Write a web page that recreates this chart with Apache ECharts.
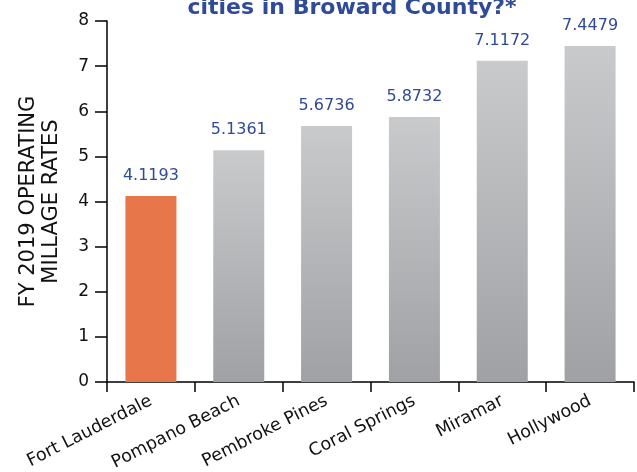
<!DOCTYPE html>
<html>
<head>
<meta charset="utf-8">
<script src="https://cdn.jsdelivr.net/npm/echarts@6/dist/echarts.min.js"></script>
<style>
  html, body { margin: 0; padding: 0; background: #fff; }
  #chart { width: 637px; height: 472px; }
</style>
</head>
<body>
<div id="chart"></div>
<script>
const cities = ["Fort Lauderdale", "Pompano Beach", "Pembroke Pines", "Coral Springs", "Miramar", "Hollywood"];
const millageRates = [4.1193, 5.1361, 5.6736, 5.8732, 7.1172, 7.4479];
const highlightCity = "Fort Lauderdale";

const fontFamily = "'DejaVu Sans', sans-serif";
const blue = "#2f4a98";

const grayFill = new echarts.graphic.LinearGradient(0, 0, 0, 1, [
  { offset: 0, color: "#c9cacc" },
  { offset: 1, color: "#9fa1a4" }
]);

const chart = echarts.init(document.getElementById("chart"));

chart.setOption({
  animation: false,
  title: {
    text: "cities in Broward County?*",
    left: 347,
    textAlign: "center",
    top: -8,
    textStyle: { color: blue, fontSize: 22, fontWeight: "bold", fontFamily }
  },
  grid: { left: 107, right: 3, top: 21, bottom: 90, outerBoundsMode: "none" },
  xAxis: {
    type: "category",
    data: cities,
    axisLine: { lineStyle: { color: "#000", width: 1.5 } },
    axisTick: { show: true, length: 10, lineStyle: { color: "#000", width: 1.5 } },
    axisLabel: {
      rotate: 27,
      margin: 18,
      interval: 0,
      color: "#111",
      fontSize: 17.5,
      fontFamily
    }
  },
  yAxis: {
    type: "value",
    min: 0,
    max: 8,
    interval: 1,
    name: "FY 2019 OPERATING\nMILLAGE RATES",
    nameLocation: "middle",
    nameGap: 44,
    nameMoveOverlap: false,
    nameTextStyle: { color: "#111", fontSize: 21, fontFamily, lineHeight: 23 },
    splitLine: { show: false },
    axisLine: { show: true, lineStyle: { color: "#000", width: 1.5 } },
    axisTick: { show: true, length: 12, lineStyle: { color: "#000", width: 1.5 } },
    axisLabel: { color: "#111", fontSize: 17, fontFamily, margin: 18 }
  },
  series: [
    {
      type: "bar",
      barWidth: 51,
      data: cities.map((c, i) => ({
        value: millageRates[i],
        itemStyle: { color: c === highlightCity ? "#e8764b" : grayFill }
      })),
      label: {
        show: true,
        position: "top",
        distance: 12,
        color: blue,
        fontSize: 16,
        fontFamily
      }
    }
  ]
});
</script>
</body>
</html>
